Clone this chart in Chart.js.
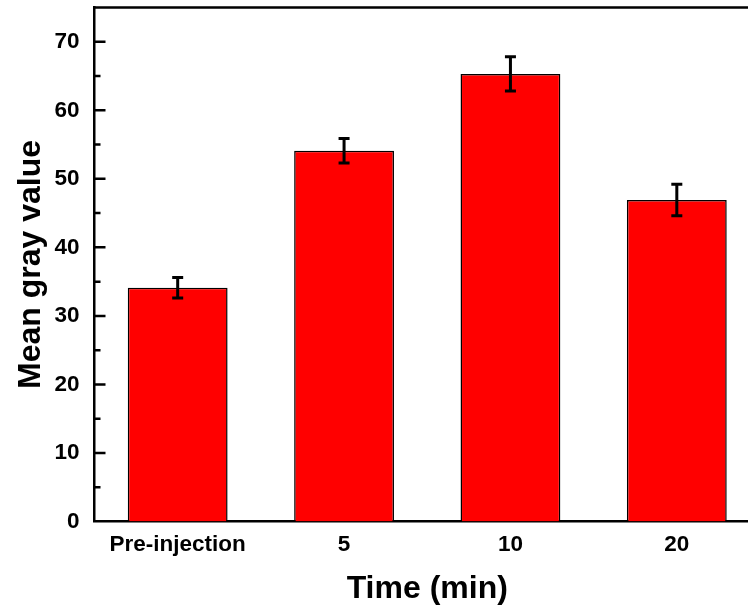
<!DOCTYPE html>
<html>
<head>
<meta charset="utf-8">
<script src="https://cdn.jsdelivr.net/npm/chart.js@4"></script>
<style>
    html, body { margin: 0; padding: 0; background: #fff; overflow: hidden; }
    #wrap { width: 748px; height: 612px; overflow: hidden; }
</style>
</head>
<body>
<div id="wrap"><canvas id="grayChart" width="770" height="612"></canvas></div>
<script>
// data
const categories = ['Pre-injection', '5', '10', '20'];
const meanValues = [34.1, 54.1, 65.3, 46.9];
const errorValues = [1.5, 1.8, 2.5, 2.3];
const yTickValues = [0, 5, 10, 15, 20, 25, 30, 35, 40, 45, 50, 55, 60, 65, 70, 75];
const yLabelValues = [0, 10, 20, 30, 40, 50, 60, 70];

const FONT = 'Liberation Sans, Arial, sans-serif';

// error bars, inward ticks and the top frame line
const extras = {
    id: 'extras',
    afterDatasetsDraw(chart) {
        const ctx = chart.ctx;
        const y = chart.scales.y;
        const meta = chart.getDatasetMeta(0);
        ctx.save();
        ctx.strokeStyle = '#000';
        ctx.lineWidth = 3;
        meta.data.forEach((bar, i) => {
            const top = y.getPixelForValue(meanValues[i] + errorValues[i]);
            const bottom = y.getPixelForValue(meanValues[i] - errorValues[i]);
            ctx.beginPath();
            ctx.moveTo(bar.x, top);
            ctx.lineTo(bar.x, bottom);
            ctx.moveTo(bar.x - 5.5, top);
            ctx.lineTo(bar.x + 5.5, top);
            ctx.moveTo(bar.x - 5.5, bottom);
            ctx.lineTo(bar.x + 5.5, bottom);
            ctx.stroke();
        });
        ctx.restore();
    },
    afterDraw(chart) {
        const ctx = chart.ctx;
        const area = chart.chartArea;
        const y = chart.scales.y;
        ctx.save();
        ctx.strokeStyle = '#000';
        ctx.lineWidth = 2.5;
        ctx.beginPath();
        ctx.moveTo(area.left - 1.25, area.top);
        ctx.lineTo(area.right, area.top);
        y.ticks.forEach(t => {
            if (t.value <= 0 || t.value >= 75) return;
            const py = y.getPixelForValue(t.value);
            const len = yLabelValues.includes(t.value) ? 11 : 6;
            ctx.moveTo(area.left, py);
            ctx.lineTo(area.left + len, py);
        });
        ctx.stroke();
        ctx.restore();
    }
};

new Chart(document.getElementById('grayChart'), {
    type: 'bar',
    data: {
        labels: categories,
        datasets: [{
            data: meanValues,
            backgroundColor: '#ff0000',
            borderColor: '#000',
            borderWidth: 1.5,
            categoryPercentage: 1.0,
            barPercentage: 0.6
        }]
    },
    options: {
        responsive: false,
        animation: false,
        layout: { padding: { top: 7.5, right: 10, left: 0, bottom: 0 } },
        plugins: {
            legend: { display: false },
            tooltip: { enabled: false }
        },
        scales: {
            x: {
                grid: { display: false, drawTicks: false },
                border: { display: true, color: '#000', width: 2.5 },
                ticks: {
                    color: '#000',
                    padding: 10,
                    maxRotation: 0,
                    font: { family: FONT, size: 22.5, weight: 'bold' }
                },
                title: {
                    display: true,
                    text: 'Time (min)',
                    color: '#000',
                    padding: { top: 0, bottom: 3.5 },
                    font: { family: FONT, size: 32, weight: 'bold' }
                },
                afterFit(scale) {
                    scale.height = 90.5;
                    scale.paddingLeft = 0;
                    scale.paddingRight = 0;
                }
            },
            y: {
                min: 0,
                max: 75,
                grid: { display: false, drawTicks: false },
                border: { display: true, color: '#000', width: 2.5 },
                afterBuildTicks(scale) {
                    scale.ticks = yTickValues.map(v => ({ value: v }));
                },
                ticks: {
                    color: '#000',
                    padding: 15,
                    font: { family: FONT, size: 22.5, weight: 'bold' },
                    callback: v => (yLabelValues.includes(v) ? String(v) : '')
                },
                title: {
                    display: true,
                    text: 'Mean gray value',
                    color: '#000',
                    padding: { top: 12, bottom: 0 },
                    font: { family: FONT, size: 32, weight: 'bold' }
                },
                afterFit(scale) {
                    scale.width = 94.5;
                    scale.paddingTop = 0;
                    scale.paddingBottom = 0;
                }
            }
        }
    },
    plugins: [extras]
});
</script>
</body>
</html>
